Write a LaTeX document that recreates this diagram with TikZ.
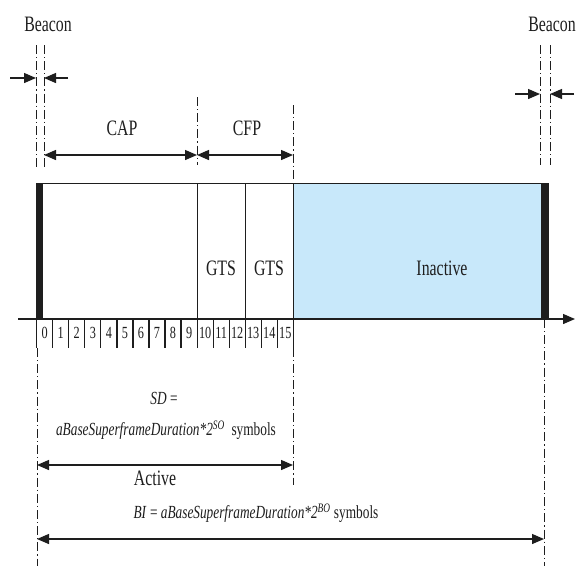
\documentclass[tikz,border=0pt]{standalone}
\usepackage{fontspec}
\setmainfont[FakeStretch=0.72]{Liberation Serif}
\usetikzlibrary{arrows.meta}
\definecolor{inact}{RGB}{200,232,250}
\definecolor{ink}{RGB}{30,30,30}
\begin{document}
\begin{tikzpicture}[x=1pt,y=-1pt,
  lbl/.style={font=\fontsize{22}{24}\selectfont, inner sep=0pt, text=ink},
  num/.style={font=\fontsize{17}{19}\selectfont, inner sep=0pt, text=ink},
  frm/.style={font=\fontsize{18.5}{20}\selectfont, inner sep=0pt, text=ink},
  ddline/.style={draw=ink, line width=1pt, dash pattern=on 9pt off 3pt on 1.2pt off 3pt},
  tip/.tip={Triangle[length=12pt,width=10pt]},
  dimarrow/.style={draw=ink, line width=1.3pt, tip-tip},
  onearrow/.style={draw=ink, line width=1.3pt, -tip},
  boxline/.style={draw=ink, line width=1pt}
]
\useasboundingbox (0,0) rectangle (576,566);
\fill[white] (0,0) rectangle (576,566);

% ---- Beacons (top) ----
\node[lbl] (beaconL) at (48,24) {Beacon};
\node[lbl] (beaconR) at (552,24) {Beacon};
\coordinate (bLa1) at (36,45); \coordinate (bLa2) at (36,170);
\coordinate (bLb1) at (44,45); \coordinate (bLb2) at (44,170);
\draw[ddline] (bLa1) -- (bLa2);
\draw[ddline] (bLb1) -- (bLb2);
\coordinate (bRa1) at (540,45); \coordinate (bRa2) at (540,165);
\coordinate (bRb1) at (550,45); \coordinate (bRb2) at (550,165);
\draw[ddline] (bRa1) -- (bRa2);
\draw[ddline] (bRb1) -- (bRb2);
\coordinate (aL1) at (10,78); \coordinate (aL2) at (36,78);
\coordinate (aL3) at (68,78); \coordinate (aL4) at (44,78);
\draw[onearrow] (aL1) -- (aL2);
\draw[onearrow] (aL3) -- (aL4);
\coordinate (aR1) at (515,94); \coordinate (aR2) at (540,94);
\coordinate (aR3) at (574,94); \coordinate (aR4) at (550,94);
\draw[onearrow] (aR1) -- (aR2);
\draw[onearrow] (aR3) -- (aR4);

% ---- CAP / CFP ----
\coordinate (capL) at (44,155); \coordinate (capR) at (197,155);
\coordinate (cfpR) at (293,155);
\draw[dimarrow] (capL) -- (capR);
\draw[dimarrow] (capR) -- (cfpR);
\node[lbl] (cap) at (122,128) {CAP};
\node[lbl] (cfp) at (247,128) {CFP};
\coordinate (d1a) at (197,97); \coordinate (d1b) at (197,165);
\coordinate (d2a) at (293,105); \coordinate (d2b) at (293,180);
\draw[ddline] (d1a) -- (d1b);
\draw[ddline] (d2a) -- (d2b);

% ---- Superframe box ----
\fill[inact] (293,183) rectangle (541,319);
\fill[ink] (36,183) rectangle (43,319);
\fill[ink] (541,183) rectangle (549,319);
\draw[boxline] (36,183) -- (549,183);
\draw[boxline] (197,183) -- (197,319);
\draw[boxline] (245,183) -- (245,319);
\draw[boxline] (293,183) -- (293,319);
\node[lbl] (gts1) at (221,268) {GTS};
\node[lbl] (gts2) at (269,268) {GTS};
\node[lbl] (inactive) at (442,268) {Inactive};

% ---- time axis ----
\coordinate (ax0) at (18,319); \coordinate (ax1) at (575,319);
\draw[onearrow] (ax0) -- (ax1);
\foreach \i in {0,...,16} {
  \draw[ink, line width=1.2pt] ({36.7+16.04*\i},319) -- ({36.7+16.04*\i},348);
}
\foreach \i in {0,...,15} {
  \node[num] (s\i) at ({36.7+16.04*\i+8.02},333) {\i};
}

% ---- lower dash lines ----
\coordinate (l1a) at (37,348); \coordinate (l1b) at (37,566);
\coordinate (l2a) at (293,348); \coordinate (l2b) at (293,485);
\coordinate (l3a) at (544,319); \coordinate (l3b) at (544,566);
\draw[ddline] (l1a) -- (l1b);
\draw[ddline] (l2a) -- (l2b);
\draw[ddline] (l3a) -- (l3b);

% ---- SD ----
\node[frm] (sd1) at (164,398) {\textit{SD} =};
\node[frm] (sd2) at (166,430) {\textit{aBaseSuperframeDuration*2}\textsuperscript{\textit{SO}}\ \ symbols};
\coordinate (sdL) at (37,465); \coordinate (sdR) at (293,465);
\draw[dimarrow] (sdL) -- (sdR);
\node[lbl] (active) at (155,478) {Active};

% ---- BI ----
\node[frm] (bi) at (256,513) {\textit{BI} = \textit{aBaseSuperframeDuration*2}\textsuperscript{\textit{BO}}\ symbols};
\coordinate (biL) at (37,539); \coordinate (biR) at (544,539);
\draw[dimarrow] (biL) -- (biR);
\end{tikzpicture}
\end{document}
